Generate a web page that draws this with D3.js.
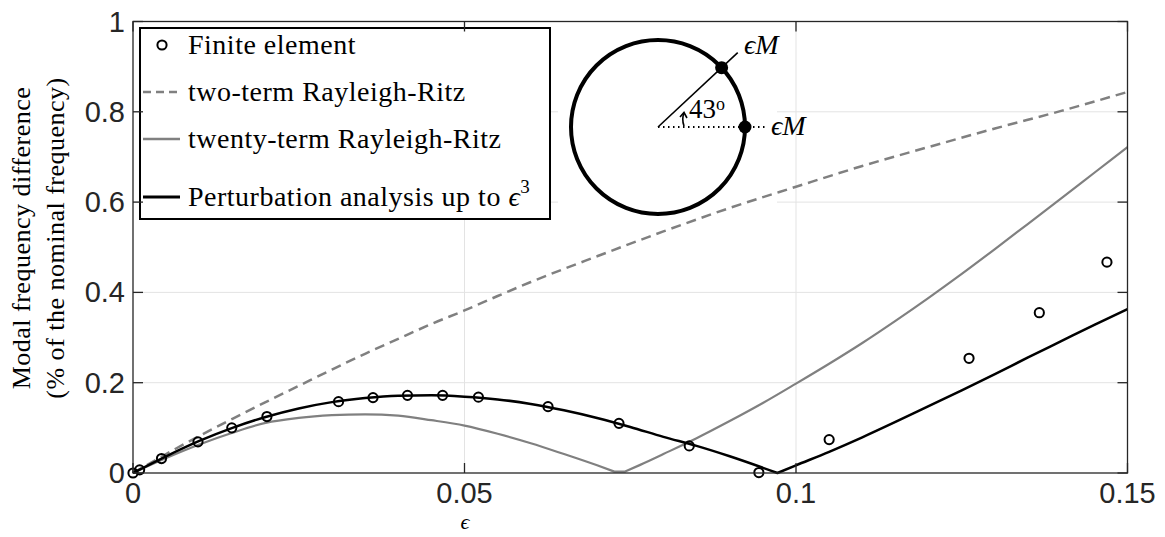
<!DOCTYPE html>
<html>
<head>
<meta charset="utf-8">
<script src="https://cdn.jsdelivr.net/npm/d3@7"></script>
<style>
  body { margin: 0; background: #fff; }
  svg { display: block; }
</style>
</head>
<body>
<svg id="chart" width="1165" height="537"></svg>
<script>
'use strict';
// finite element results (circles)
const feEps = [0, 0.001, 0.0043, 0.0098, 0.0149, 0.0202, 0.031, 0.0362, 0.0414, 0.0467, 0.0521, 0.0626, 0.0733, 0.0839, 0.0944, 0.105, 0.1261, 0.1367, 0.1469];
const feVal = [0, 0.007, 0.032, 0.069, 0.100, 0.125, 0.158, 0.167, 0.172, 0.172, 0.168, 0.147, 0.110, 0.060, 0.001, 0.074, 0.254, 0.355, 0.467];

// two-term Rayleigh-Ritz (dashed)
const twoEps = [0, 0.005, 0.01, 0.015, 0.02, 0.025, 0.03, 0.035, 0.04, 0.045, 0.05, 0.055, 0.06, 0.07, 0.08, 0.09, 0.1, 0.11, 0.12, 0.13, 0.14, 0.15];
const twoVal = [0, 0.042, 0.082, 0.120, 0.157, 0.193, 0.229, 0.264, 0.297, 0.330, 0.360, 0.392, 0.423, 0.480, 0.535, 0.587, 0.634, 0.680, 0.722, 0.763, 0.802, 0.844];

// twenty-term Rayleigh-Ritz, split where it touches zero
const twentyEpsA = [0, 0.005, 0.01, 0.015, 0.02, 0.025, 0.03, 0.035, 0.04, 0.045, 0.05, 0.055, 0.06, 0.065, 0.07, 0.0726];
const twentyValA = [0, 0.033, 0.063, 0.089, 0.111, 0.122, 0.128, 0.130, 0.127, 0.117, 0.105, 0.087, 0.066, 0.042, 0.017, 0.003];
const twentyEpsB = [0.0742, 0.0765, 0.08, 0.085, 0.09, 0.095, 0.1, 0.105, 0.11, 0.115, 0.12, 0.125, 0.13, 0.135, 0.14, 0.145, 0.15];
const twentyValB = [0.003, 0.018, 0.042, 0.077, 0.115, 0.155, 0.198, 0.242, 0.288, 0.337, 0.388, 0.441, 0.496, 0.552, 0.608, 0.665, 0.722];

// perturbation analysis up to eps^3, split at the cusp
const pertEpsA = [0, 0.005, 0.01, 0.015, 0.02, 0.025, 0.03, 0.035, 0.04, 0.045, 0.05, 0.055, 0.06, 0.065, 0.07, 0.075, 0.08, 0.085, 0.09, 0.0972];
const pertValA = [0, 0.037, 0.071, 0.100, 0.124, 0.143, 0.157, 0.166, 0.171, 0.172, 0.169, 0.163, 0.153, 0.139, 0.122, 0.102, 0.080, 0.060, 0.037, 0];
const pertEpsB = [0.0972, 0.1, 0.105, 0.11, 0.115, 0.12, 0.125, 0.13, 0.135, 0.14, 0.145, 0.15];
const pertValB = [0, 0.017, 0.047, 0.079, 0.113, 0.148, 0.183, 0.219, 0.256, 0.292, 0.328, 0.363];

const xTicks = [0, 0.05, 0.1, 0.15];
const yTicks = [0, 0.2, 0.4, 0.6, 0.8, 1];
const legendLabels = ["Finite element", "two-term Rayleigh-Ritz", "twenty-term Rayleigh-Ritz", "Perturbation analysis up to\u00a0"];

const serif = "'Liberation Serif', 'DejaVu Serif', serif";
const sans = "'Liberation Sans', Arial, sans-serif";
const axisColor = "#262626";
const gray = "#808080";

const svg = d3.select("#chart");
const pLeft = 133, pRight = 1127.5, pTop = 21.5, pBottom = 473;

const x = d3.scaleLinear().domain([0, 0.15]).range([pLeft, pRight]);
const y = d3.scaleLinear().domain([0, 1]).range([pBottom, pTop]);

const zip = (a, b) => a.map((v, i) => [v, b[i]]);

// grid
const grid = svg.append("g").attr("stroke", "#e3e3e3").attr("stroke-width", 1);
grid.selectAll("line.gx").data(xTicks.slice(1, -1)).join("line")
  .attr("x1", d => x(d)).attr("x2", d => x(d)).attr("y1", pTop).attr("y2", pBottom);
grid.selectAll("line.gy").data(yTicks.slice(1, -1)).join("line")
  .attr("y1", d => y(d)).attr("y2", d => y(d)).attr("x1", pLeft).attr("x2", pRight);

// white backing of the inset picture (hides the grid only)
svg.append("rect").attr("x", 558).attr("y", 23).attr("width", 219).attr("height", 195).attr("fill", "#fff");

const line = d3.line().x(d => x(d[0])).y(d => y(d[1])).curve(d3.curveMonotoneX);

svg.append("path").datum(zip(twoEps, twoVal))
  .attr("d", line).attr("fill", "none")
  .attr("stroke", gray).attr("stroke-width", 2.5).attr("stroke-dasharray", "10,6");

svg.append("path").datum(zip(twentyEpsA, twentyValA))
  .attr("d", d => line(d) + "L" + line(zip(twentyEpsB, twentyValB)).slice(1))
  .attr("fill", "none")
  .attr("stroke", gray).attr("stroke-width", 2.2).attr("stroke-linejoin", "round");

svg.append("path").datum(zip(pertEpsA, pertValA))
  .attr("d", d => line(d) + "L" + line(zip(pertEpsB, pertValB)).slice(1))
  .attr("fill", "none")
  .attr("stroke", "#000").attr("stroke-width", 2.5).attr("stroke-linejoin", "round");

svg.append("g").selectAll("circle").data(zip(feEps, feVal)).join("circle")
  .attr("cx", d => x(d[0])).attr("cy", d => y(d[1])).attr("r", 4.6)
  .attr("fill", "none").attr("stroke", "#000").attr("stroke-width", 2);

// inset sketch: ring with two masses
const inset = svg.append("g");
const cx = 658, cy = 127, R = 87, ang = 43 * Math.PI / 180;
inset.append("circle").attr("cx", cx).attr("cy", cy).attr("r", R)
  .attr("fill", "none").attr("stroke", "#000").attr("stroke-width", 4);
inset.append("line").attr("x1", cx).attr("y1", cy)
  .attr("x2", cx + (R + 22) * Math.cos(ang)).attr("y2", cy - (R + 22) * Math.sin(ang))
  .attr("stroke", "#000").attr("stroke-width", 1.6);
inset.append("line").attr("x1", cx).attr("y1", cy).attr("x2", cx + R + 22).attr("y2", cy)
  .attr("stroke", "#000").attr("stroke-width", 2).attr("stroke-dasharray", "1.5,3.5");
inset.append("circle").attr("cx", cx + R * Math.cos(ang)).attr("cy", cy - R * Math.sin(ang)).attr("r", 6.5).attr("fill", "#000");
inset.append("circle").attr("cx", cx + R).attr("cy", cy).attr("r", 6.5).attr("fill", "#000");
inset.append("path").attr("d", "M684,126 Q681.5,119 684,113")
  .attr("fill", "none").attr("stroke", "#000").attr("stroke-width", 1.6);
inset.append("path").attr("d", "M680,117 L684,112.5 L687,118")
  .attr("fill", "none").attr("stroke", "#000").attr("stroke-width", 1.6);
inset.append("text").attr("x", 689).attr("y", 118).attr("font-family", serif).attr("font-size", 27)
  .text("43").append("tspan").attr("dy", -8).attr("font-size", 18).text("o");
inset.append("text").attr("x", 744).attr("y", 54).attr("font-family", serif).attr("font-size", 28)
  .attr("font-style", "italic").text("ϵM");
inset.append("text").attr("x", 771).attr("y", 135).attr("font-family", serif).attr("font-size", 28)
  .attr("font-style", "italic").text("ϵM");

// legend
const lg = svg.append("g");
lg.append("rect").attr("x", 140).attr("y", 28).attr("width", 410).attr("height", 191)
  .attr("fill", "#fff").attr("stroke", "#000").attr("stroke-width", 2);
const rowY = [45, 92, 139, 197];
const legendFont = 28, legendSpacing = 0.5;
lg.append("circle").attr("cx", 162).attr("cy", rowY[0]).attr("r", 4.6)
  .attr("fill", "none").attr("stroke", "#000").attr("stroke-width", 2);
lg.append("line").attr("x1", 143).attr("x2", 180).attr("y1", rowY[1]).attr("y2", rowY[1])
  .attr("stroke", gray).attr("stroke-width", 2.5).attr("stroke-dasharray", "8,5");
lg.append("line").attr("x1", 143).attr("x2", 180).attr("y1", rowY[2]).attr("y2", rowY[2])
  .attr("stroke", gray).attr("stroke-width", 2.5);
lg.append("line").attr("x1", 143).attr("x2", 180).attr("y1", rowY[3]).attr("y2", rowY[3])
  .attr("stroke", "#000").attr("stroke-width", 3);
const labels = lg.selectAll("text.lab").data(legendLabels).join("text")
  .attr("x", 188).attr("y", (d, i) => rowY[i] + 9)
  .attr("font-family", serif).attr("font-size", legendFont).attr("letter-spacing", legendSpacing)
  .attr("fill", "#000")
  .text(d => d);
const lastLabel = labels.filter((d, i) => i === 3);
lastLabel.append("tspan").attr("font-style", "italic").text("ϵ");
lastLabel.append("tspan").attr("dy", -13).attr("font-size", 19).text("3");

// axes box and ticks
svg.append("rect").attr("x", pLeft).attr("y", pTop).attr("width", pRight - pLeft).attr("height", pBottom - pTop)
  .attr("fill", "none").attr("stroke", axisColor).attr("stroke-width", 1.3);
const ticks = svg.append("g").attr("stroke", axisColor).attr("stroke-width", 1.3);
ticks.selectAll("line.xb").data(xTicks).join("line")
  .attr("x1", d => x(d)).attr("x2", d => x(d)).attr("y1", pBottom).attr("y2", pBottom - 10);
ticks.selectAll("line.xt").data(xTicks).join("line")
  .attr("x1", d => x(d)).attr("x2", d => x(d)).attr("y1", pTop).attr("y2", pTop + 10);
ticks.selectAll("line.yl").data(yTicks).join("line")
  .attr("y1", d => y(d)).attr("y2", d => y(d)).attr("x1", pLeft).attr("x2", pLeft + 10);
ticks.selectAll("line.yr").data(yTicks).join("line")
  .attr("y1", d => y(d)).attr("y2", d => y(d)).attr("x1", pRight).attr("x2", pRight - 10);

const fmt = d => d === 0 ? "0" : String(d);
svg.append("g").selectAll("text").data(xTicks).join("text")
  .attr("x", d => x(d)).attr("y", 503).attr("text-anchor", "middle")
  .attr("font-family", sans).attr("font-size", 29).attr("fill", axisColor)
  .text(fmt);
svg.append("g").selectAll("text").data(yTicks).join("text")
  .attr("x", 125).attr("y", d => y(d) + 10).attr("text-anchor", "end")
  .attr("font-family", sans).attr("font-size", 29).attr("fill", axisColor)
  .text(fmt);

// axis labels
svg.append("text").attr("x", 465).attr("y", 529).attr("text-anchor", "middle")
  .attr("font-family", serif).attr("font-size", 22).attr("font-style", "italic").text("ϵ");
const yl = svg.append("g").attr("transform", "translate(0,238) rotate(-90)")
  .attr("font-family", serif).attr("font-size", 26).attr("letter-spacing", 0.5)
  .attr("text-anchor", "middle").attr("fill", "#000");
yl.append("text").attr("x", 0).attr("y", 30).text("Modal frequency difference");
yl.append("text").attr("x", 0).attr("y", 64).text("(% of the nominal frequency)");
</script>
</body>
</html>
